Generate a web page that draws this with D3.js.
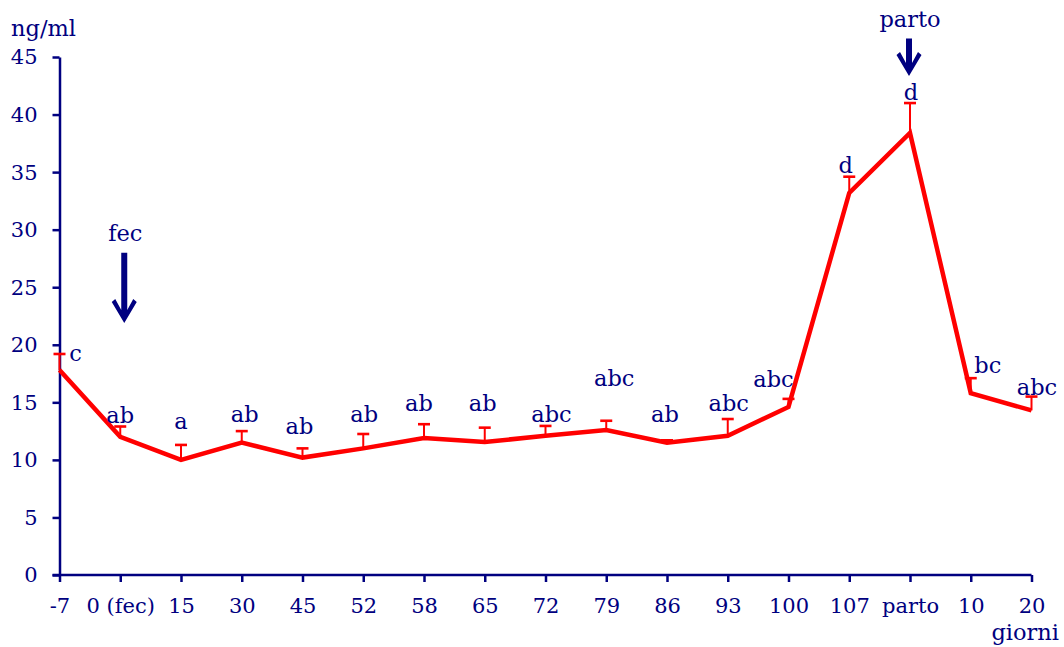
<!DOCTYPE html>
<html>
<head>
<meta charset="utf-8">
<script src="https://cdn.jsdelivr.net/npm/d3@7"></script>
<style>
  html, body { margin: 0; padding: 0; background: #fff; }
  svg { display: block; }
  text { font-family: "DejaVu Serif", serif; fill: #000080; }
</style>
</head>
<body>
<svg id="chart" width="1064" height="647"></svg>
<script>
// Sampling days (x categories)
const days = ["-7", "0 (fec)", "15", "30", "45", "52", "58", "65", "72", "79", "86", "93", "100", "107", "parto", "10", "20"];
// Mean concentration, ng/ml
const means = [17.8, 12.0, 10.0, 11.5, 10.2, 11.0, 11.9, 11.55, 12.1, 12.6, 11.5, 12.1, 14.6, 33.2, 38.4, 15.8, 14.3];
// Upper end of the error bar (mean + SE), ng/ml
const upper = [19.2, 12.9, 11.3, 12.5, 11.0, 12.25, 13.1, 12.8, 12.95, 13.4, 11.7, 13.55, 15.3, 34.6, 41.0, 17.1, 15.5];
// Significance letters
const letters = ["c", "ab", "a", "ab", "ab", "ab", "ab", "ab", "abc", "abc", "ab", "abc", "abc", "d", "d", "bc", "abc"];
// Y axis ticks
const yTicks = [0, 5, 10, 15, 20, 25, 30, 35, 40, 45];

// Pixel nudges for each letter, relative to the top of its error bar
const letterNudge = [
  [16, 7], [0, -4], [0, -16], [3, -9], [-3, -14], [1, -12], [-5, -13], [-2, -17],
  [6, -4], [8, -35], [-2, -18], [1, -8], [-15, -12], [-3.5, -4], [1, -3], [17, -5], [5.5, -2]
];

const navy = "#000080";
const red = "#ff0000";
const tickFont = 21;
const labelFont = 22.5;
const svg = d3.select("#chart");
svg.append("rect").attr("width", 1064).attr("height", 647).attr("fill", "#fff");

const x = d3.scalePoint().domain(days).range([59.5, 1031.5]);
const y = d3.scaleLinear().domain([0, 45]).range([575, 57]);

// Y axis
const yAxis = svg.append("g")
  .attr("transform", `translate(${x(days[0])},0)`)
  .call(d3.axisLeft(y).tickValues(yTicks).tickSize(7).tickSizeOuter(0).tickPadding(15));
yAxis.select(".domain").attr("stroke", navy).attr("stroke-width", 2.5);
yAxis.selectAll(".tick line").attr("stroke", navy).attr("stroke-width", 2.5);
yAxis.selectAll(".tick text").attr("font-size", tickFont).attr("fill", navy)
  .attr("font-family", "DejaVu Serif, serif").attr("dy", "0.33em");

// X axis
const xAxis = svg.append("g")
  .attr("transform", `translate(0,${y(0)})`)
  .call(d3.axisBottom(x).tickSize(7).tickSizeOuter(0));
xAxis.select(".domain").remove();
xAxis.append("line")
  .attr("x1", x(days[0]) - 7).attr("x2", x(days[days.length - 1]))
  .attr("stroke", navy).attr("stroke-width", 2.5);
xAxis.selectAll(".tick line").attr("stroke", navy).attr("stroke-width", 2.5);
xAxis.selectAll(".tick text").attr("font-size", tickFont).attr("fill", navy)
  .attr("font-family", "DejaVu Serif, serif").attr("dy", null).attr("y", 38);

// Axis titles
svg.append("text").attr("x", 11).attr("y", 36).attr("font-size", labelFont).text("ng/ml");
svg.append("text").attr("x", 1059).attr("y", 640).attr("font-size", labelFont)
  .attr("text-anchor", "end").text("giorni");

// Error bars
const bars = svg.append("g").attr("stroke", red);
days.forEach((d, i) => {
  bars.append("line")
    .attr("x1", x(d)).attr("x2", x(d))
    .attr("y1", y(means[i])).attr("y2", y(upper[i]))
    .attr("stroke-width", 2);
  bars.append("line")
    .attr("x1", x(d) - 6).attr("x2", x(d) + 6)
    .attr("y1", y(upper[i])).attr("y2", y(upper[i]))
    .attr("stroke-width", 2.6);
});

// Mean line
svg.append("path")
  .datum(means)
  .attr("fill", "none")
  .attr("stroke", red)
  .attr("stroke-width", 4.5)
  .attr("stroke-linejoin", "miter")
  .attr("d", d3.line().x((v, i) => x(days[i])).y(v => y(v)));

// Significance letters
svg.append("g").selectAll("text")
  .data(letters)
  .join("text")
  .attr("font-size", labelFont)
  .attr("text-anchor", "middle")
  .attr("x", (t, i) => x(days[i]) + letterNudge[i][0])
  .attr("y", (t, i) => y(upper[i]) + letterNudge[i][1])
  .text(t => t);

// Event arrows (fecondazione, parto)
function arrow(cx, topY, tipY) {
  const p = d3.path();
  p.moveTo(cx - 3, topY);
  p.lineTo(cx + 3, topY);
  p.lineTo(cx + 3, tipY - 13);
  p.lineTo(cx + 9, tipY - 24);
  p.lineTo(cx + 12.5, tipY - 21);
  p.lineTo(cx, tipY);
  p.lineTo(cx - 12.5, tipY - 21);
  p.lineTo(cx - 9, tipY - 24);
  p.lineTo(cx - 3, tipY - 13);
  p.closePath();
  svg.append("path").attr("d", p.toString()).attr("fill", navy);
}
const events = [
  { day: "0 (fec)", shift: 4, label: "fec", labelAt: 29.0, from: 28.0, to: 21.9 },
  { day: "parto", shift: -1, label: "parto", labelAt: 47.6, from: 46.6, to: 43.35 }
];
events.forEach(e => {
  svg.append("text").attr("x", x(e.day) + e.shift + 1).attr("y", y(e.labelAt))
    .attr("font-size", labelFont).attr("text-anchor", "middle").text(e.label);
  arrow(x(e.day) + e.shift, y(e.from), y(e.to));
});
</script>
</body>
</html>
